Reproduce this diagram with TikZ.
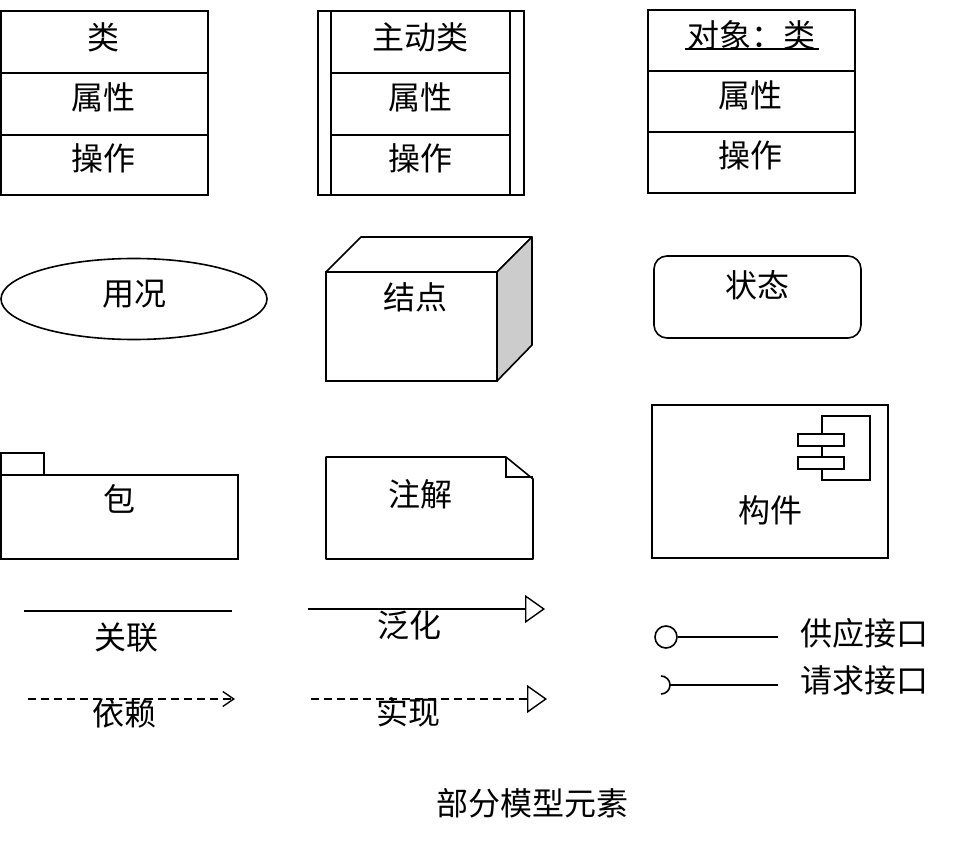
\documentclass[tikz,border=0pt]{standalone}
\usepackage{fontspec}
\setmainfont{Noto Sans CJK SC}
\usetikzlibrary{shapes.geometric,arrows.meta}
\begin{document}
\begin{tikzpicture}[x=1pt,y=-1pt,line width=1.6pt,
  lbl/.style={font=\fontsize{32}{32}\selectfont,inner sep=0pt,anchor=center},
  box/.style={draw,rectangle,inner sep=0pt,outer sep=0pt},
  dsh/.style={dash pattern=on 8pt off 5pt}]
\useasboundingbox (0,0) rectangle (963,842);
% class
\node[box,minimum width=207pt,minimum height=184pt] (cls) at (104.5,103) {};
\draw (cls.west |- 0,73) -- (cls.east |- 0,73);
\draw (cls.west |- 0,135) -- (cls.east |- 0,135);
\node[lbl] (clsa) at (103,37) {类};
\node[lbl] (clsb) at (103,97) {属性};
\node[lbl] (clsc) at (103,158) {操作};
% active class
\node[box,minimum width=206pt,minimum height=184pt] (act) at (421,103) {};
\draw (331,11) -- (331,195);
\draw (510,11) -- (510,195);
\draw (331,73) -- (510,73);
\draw (331,135) -- (510,135);
\node[lbl] (acta) at (420,37) {主动类};
\node[lbl] (actb) at (420,97) {属性};
\node[lbl] (actc) at (420,158) {操作};
% object
\node[box,minimum width=207pt,minimum height=183pt] (obj) at (751.5,101.5) {};
\draw (obj.west |- 0,71) -- (obj.east |- 0,71);
\draw (obj.west |- 0,132) -- (obj.east |- 0,132);
\node[lbl] (obja) at (751,35) {对象：类};
\draw[line width=1.4pt] (685,49) -- (819,49);
\node[lbl] (objb) at (750,95) {属性};
\node[lbl] (objc) at (750,155) {操作};
% use case
\node[draw,ellipse,inner sep=0pt,minimum width=266pt,minimum height=81pt] (uc) at (134,299) {};
\node[lbl] (uct) at (134,294) {用况};
% node (cube)
\node[box,minimum width=171pt,minimum height=109pt] (nd) at (411.5,326.5) {};
\draw[line join=round] (nd.north west) -- ++(35,-35) -- ++(171,0) -- (nd.north east);
\filldraw[fill=black!20,line join=round] (nd.north east) -- ++(35,-35) -- ++(0,108) -- (nd.south east) -- cycle;
\node[lbl] (ndt) at (415,297) {结点};
% state
\node[draw,rectangle,rounded corners=13pt,inner sep=0pt,minimum width=207pt,minimum height=82pt] (st) at (757.5,297) {};
\node[lbl] (stt) at (757,285) {状态};
% package
\node[box,minimum width=43pt,minimum height=22pt] (pktab) at (22.5,464) {};
\node[box,minimum width=237pt,minimum height=84pt] (pk) at (119.5,517) {};
\node[lbl] (pkt) at (119,499) {包};
% note
\coordinate (nt) at (326,457);
\draw[line join=round] (nt) -- (506,457) -- (533,479) -- (533,559) -- (326,559) -- cycle;
\draw (506,457) -- (506,477) -- (533,477);
\node[lbl] (ntt) at (420,494) {注解};
% component
\node[box,minimum width=236pt,minimum height=153pt] (cp) at (770,481.5) {};
\draw (822,416) rectangle (870,480);
\filldraw[fill=white] (798,434) rectangle (844,446);
\filldraw[fill=white] (798,457) rectangle (844,469);
\node[lbl] (cpt) at (770,510) {构件};
% association
\coordinate (as1) at (24,611);
\coordinate (as2) at (232,611);
\draw (as1) -- (as2);
\node[lbl] (ast) at (126,638) {关联};
% generalization
\coordinate (ge1) at (308,609);
\coordinate (ge2) at (545,609);
\draw[-{Triangle[open,length=20pt,width=28pt,line width=1.4pt]}] (ge1) -- (ge2);
\node[lbl] (get) at (409,625) {泛化};
% dependency
\coordinate (de1) at (28,699);
\coordinate (de2) at (235,699);
\draw[dsh,-{Straight Barb[length=11pt,width=15pt,line width=1.4pt]}] (de1) -- (de2);
\node[lbl] (det) at (124,713) {依赖};
% realization
\coordinate (re1) at (311,699);
\coordinate (re2) at (547,699);
\draw[dsh,-{Triangle[open,length=20pt,width=28pt,line width=1.4pt]}] (re1) -- (re2);
\node[lbl] (ret) at (408,712) {实现};
% provided interface
\node[draw,circle,inner sep=0pt,minimum size=22pt] (pi) at (666,637) {};
\coordinate (pie) at (778,637);
\draw (pi.east) -- (pie);
\node[lbl] (pit) at (864,633) {供应接口};
% required interface
\draw (661,676) arc[start angle=-90,end angle=90,radius=9];
\coordinate (ri1) at (670,685);
\coordinate (ri2) at (778,685);
\draw (ri1) -- (ri2);
\node[lbl] (rit) at (864,680) {请求接口};
% caption
\node[lbl] (cap) at (532,803) {部分模型元素};
\end{tikzpicture}
\end{document}
